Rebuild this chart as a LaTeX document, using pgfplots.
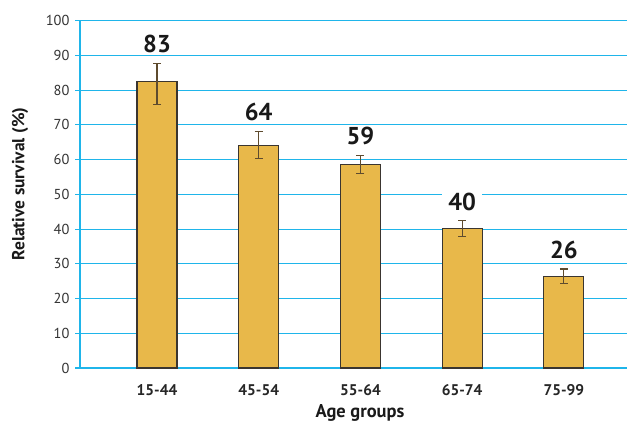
\documentclass[border=0pt]{standalone}
\usepackage{pgfplots}
\pgfplotsset{compat=1.18}
\usepackage{fontspec}
\setmainfont{PT Sans}
\definecolor{gridc}{HTML}{1FB5EA}
\definecolor{barc}{HTML}{E8B84A}
\definecolor{edgec}{HTML}{3A3530}
\definecolor{errc}{HTML}{5E4B2E}
\pgfplotstableread{
x y ep em
0 82.6 5.2 6.7
1 64.1 4.0 3.8
2 58.6 2.6 2.6
3 40.1 2.3 2.2
4 26.3 2.2 2.0
}\survival
\begin{document}
\begin{tikzpicture}[x=1bp,y=1bp]
\useasboundingbox (0,0) rectangle (627,422);
\begin{axis}[
  at={(80bp,54bp)}, anchor=south west,
  scale only axis, width=547bp, height=347.3bp,
  xmin=-0.757, xmax=4.62, ymin=0, ymax=100,
  ytick={0,10,...,100},
  xtick={0,1,2,3,4},
  xticklabels={15-44,45-54,55-64,65-74,75-99},
  axis x line=bottom, axis y line=left,
  axis line style={gridc, line width=1.6bp, -},
  ymajorgrids, grid style={gridc, line width=1.1bp},
  tick align=outside, major tick length=5bp,
  xtick style={draw=none},
  ytick style={gridc, line width=1.1bp},
  /pgf/number format/assume math mode=true,
  yticklabel style={font=\fontsize{14.5}{14.5}\selectfont, text=black!80, xshift=-2bp},
  xticklabel style={font=\bfseries\fontsize{15.5}{15.5}\selectfont, text=black!85, yshift=-8bp},
  clip=false,
]
\addplot[ybar, bar width=40bp, fill=barc, draw=edgec, line width=1.1bp,
  error bars/.cd, y dir=both, y explicit,
  error bar style={errc, line width=1.1bp},
  error mark options={rotate=90, mark size=4bp, errc, line width=1.1bp}]
  table[x=x, y=y, y error plus=ep, y error minus=em] {\survival};
\addplot[draw=none, mark=none, nodes near coords, point meta=explicit symbolic,
  nodes near coords style={font=\bfseries\fontsize{24.5}{24.5}\selectfont, text=black!90,
    fill=white, inner xsep=6bp, inner ysep=1bp, anchor=south, yshift=9bp}]
  coordinates {(0,87.8)[83] (1,68.1)[64] (2,61.2)[59] (3,42.4)[40] (4,28.5)[26]};
\end{axis}
\node[font=\bfseries\fontsize{17.5}{17.5}\selectfont, text=black!90, rotate=90] at (20,238) {Relative survival (\%)};
\node[font=\bfseries\fontsize{18.5}{18.5}\selectfont, text=black!90, anchor=base] at (360,5) {Age groups};
\end{tikzpicture}
\end{document}
